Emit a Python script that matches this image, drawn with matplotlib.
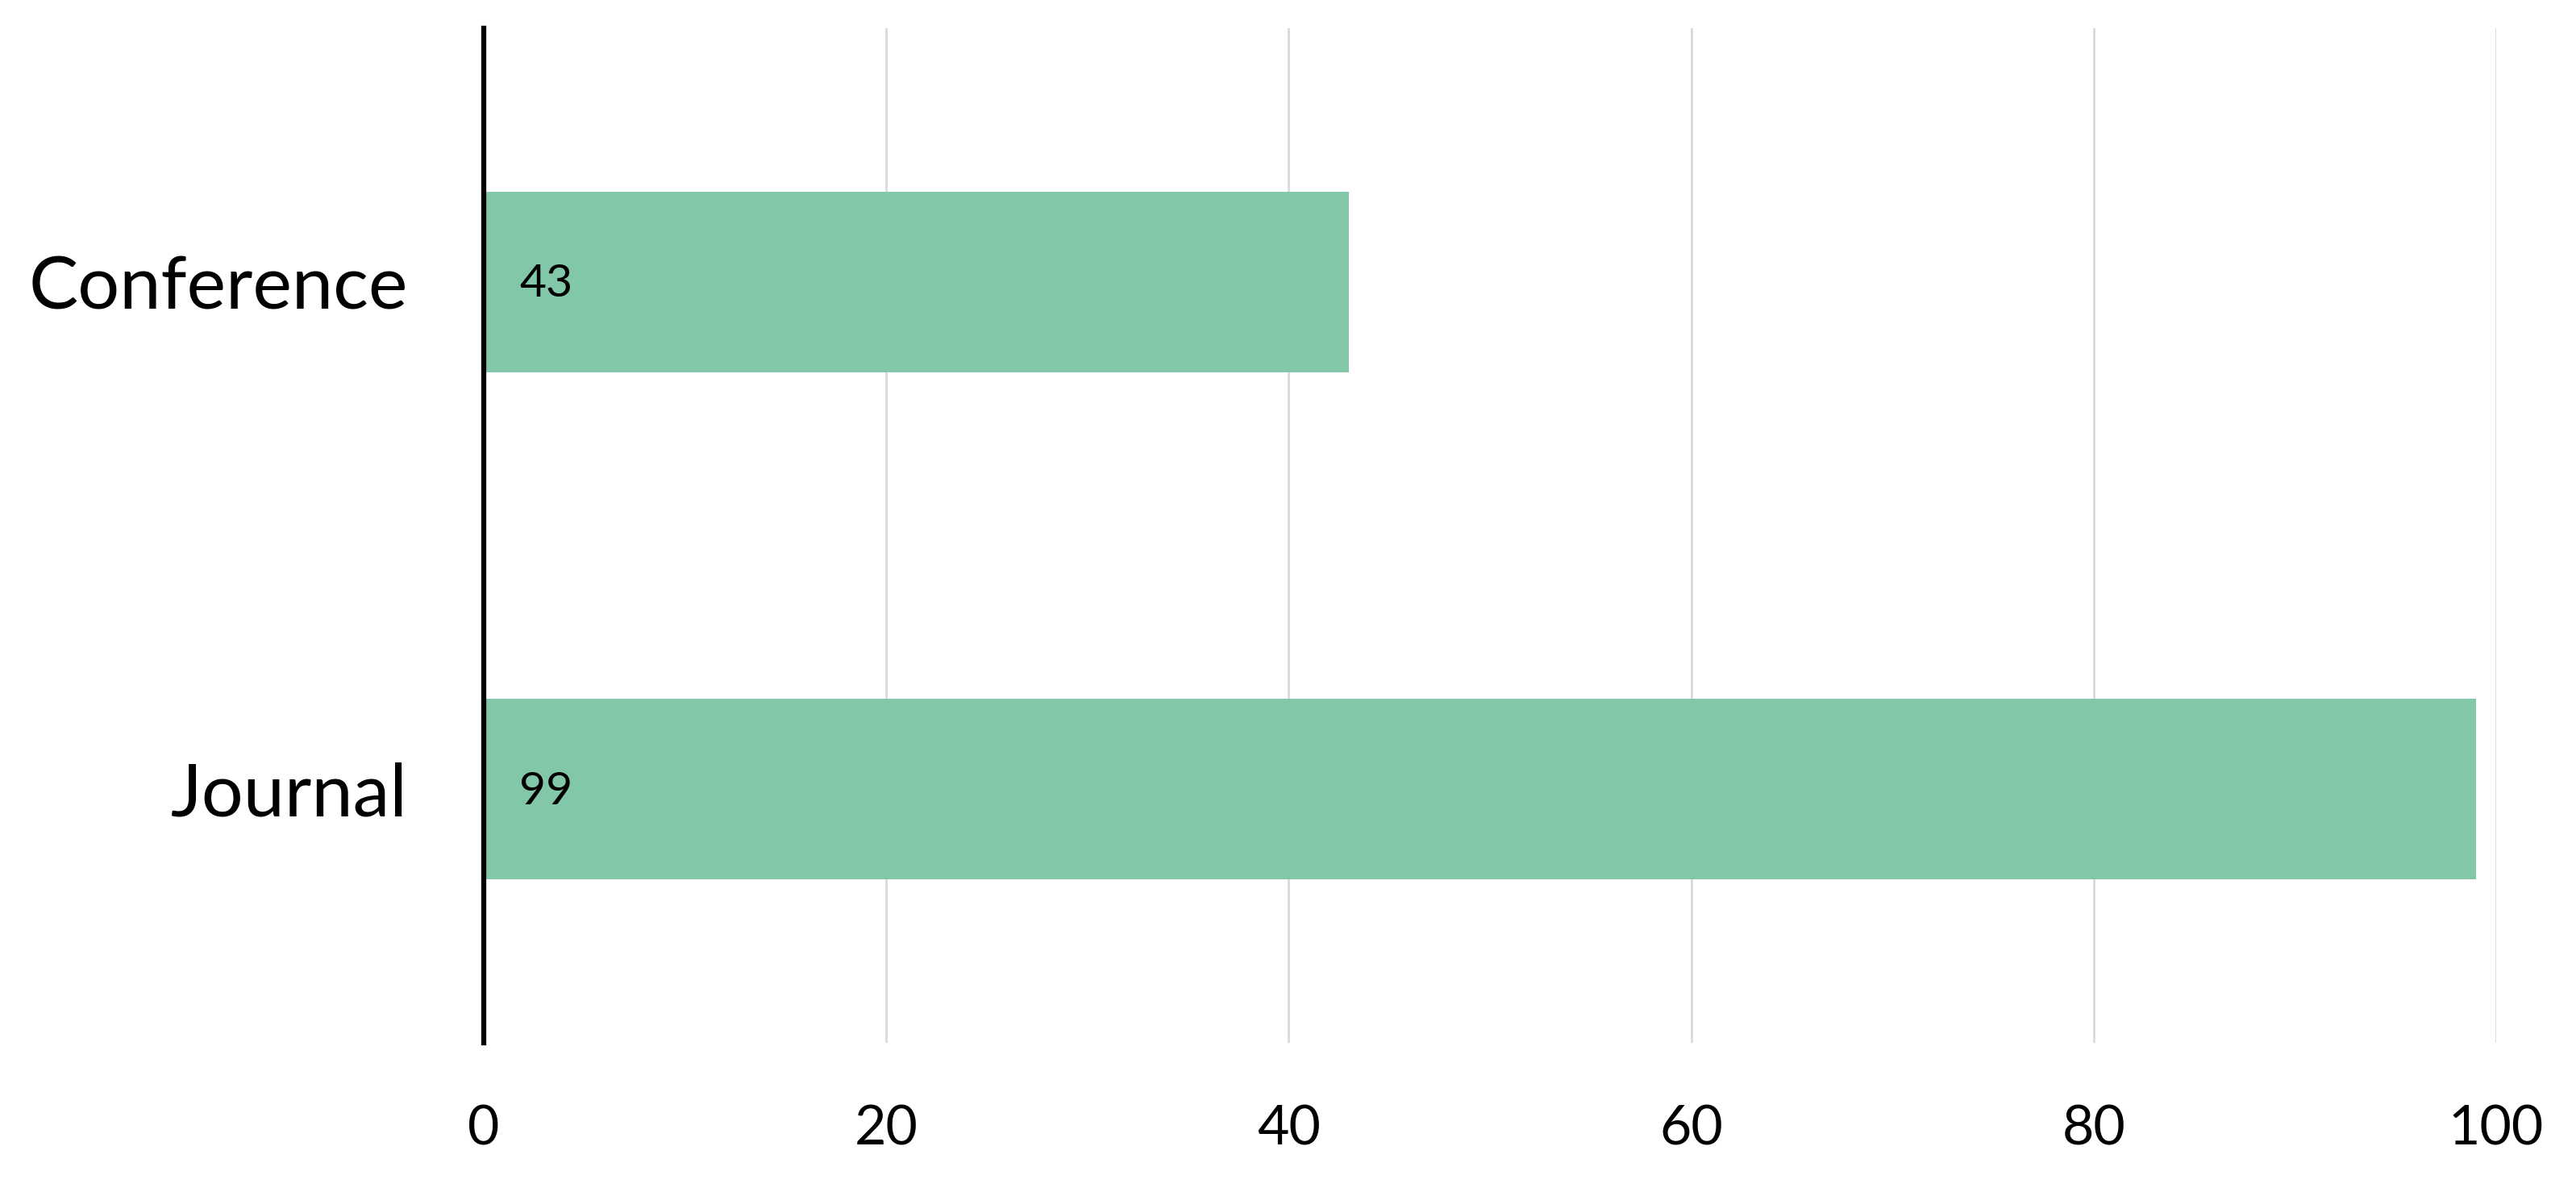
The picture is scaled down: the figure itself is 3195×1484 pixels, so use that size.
import matplotlib
matplotlib.use("Agg")
import matplotlib.pyplot as plt

categories = ["Journal", "Conference"]
values = [99, 43]
xticks = [0, 20, 40, 60, 80, 100]

plt.rcParams['font.family'] = ['Lato', 'DejaVu Sans']

fig = plt.figure(figsize=(31.95, 14.84), dpi=100)
ax = fig.add_axes([600/3195, 1 - 1294/1484, (3096-600)/3195, (1294-35)/1484])

ypos = list(range(len(categories)))
ax.barh(ypos, values, height=0.356, color="#81C7A8", zorder=2)
for y, v in zip(ypos, values):
    ax.annotate(str(v), (0, y), xytext=(32, -2), textcoords="offset points",
                ha="left", va="center", fontsize=41, color="black", zorder=3)

ax.set_xlim(0, 100)
ax.set_ylim(-0.5, 1.5)
ax.set_xticks(xticks)
ax.set_xticklabels([str(t) for t in xticks], fontsize=49)
ax.set_yticks(ypos)
ax.set_yticklabels(categories, fontsize=66)
ax.tick_params(axis="x", length=0, pad=55)
ax.tick_params(axis="y", length=0, pad=68)

ax.grid(axis="x", color="#d9d9d9", linewidth=2, zorder=0)
ax.set_axisbelow(True)
for s in ["top", "right", "bottom"]:
    ax.spines[s].set_visible(False)
ax.spines["left"].set_linewidth(4.5)
ax.spines["left"].set_color("black")
ax.spines["left"].set_zorder(4)

fig.savefig("out.png", dpi=100, facecolor="white")
